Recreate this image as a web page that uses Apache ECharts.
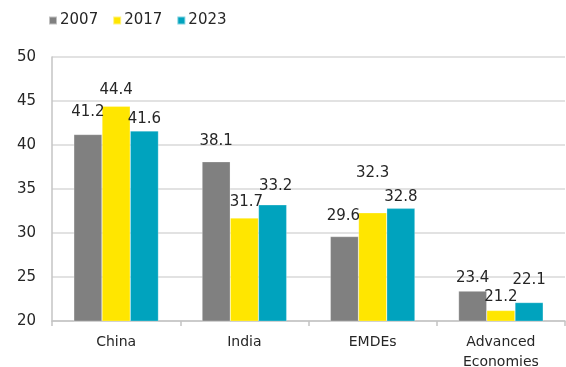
<!DOCTYPE html>
<html>
<head>
<meta charset="utf-8">
<script src="https://cdn.jsdelivr.net/npm/echarts@6/dist/echarts.min.js"></script>
<style>html,body{margin:0;padding:0;background:#fff;width:100%;height:100%;overflow:hidden}#c{width:566px;height:367px}</style>
</head>
<body>
<div id="c"></div>
<script>
const categories = ['China', 'India', 'EMDEs', 'Advanced\nEconomies'];
const seriesNames = ['2007', '2017', '2023'];
const values2007 = [41.2, 38.1, 29.6, 23.4];
const values2017 = [44.4, 31.7, 32.3, 21.2];
const values2023 = [41.6, 33.2, 32.8, 22.1];
const yTicks = { min: 20, max: 50, interval: 5 };

const colors = ['#808080', '#FFE600', '#00A3BE'];
// label nudges [dx, dy] per series per category (layout only)
const labelOffsets = [
  [[0, -10], [0, -8], [-1, -7.5], [0, 0]],
  [[0, -3.5], [2, -3.5], [0, -27.5], [0, -1]],
  [[0, 0.5], [3, -6], [0, 1], [0, -9.5]]
];

const font = 'DejaVu Sans, Verdana, sans-serif';
const allValues = [values2007, values2017, values2023];

const chart = echarts.init(document.getElementById('c'));
chart.setOption({
  animation: false,
  textStyle: { fontFamily: font },
  legend: {
    left: 48, top: 13, padding: 0,
    itemWidth: 8, itemHeight: 8, itemGap: 14,
    icon: 'rect',
    textStyle: { fontSize: 15, color: '#262626', fontFamily: font, padding: [0, 0, 0, -2] },
    data: seriesNames
  },
  grid: { left: 52, right: 1, top: 57, bottom: 46, containLabel: false, outerBoundsMode: 'none' },
  xAxis: {
    type: 'category',
    data: categories,
    axisLine: { lineStyle: { color: '#C4C4C4', width: 1.5 } },
    axisTick: { show: true, length: 5, lineStyle: { color: '#C4C4C4', width: 1.5 } },
    axisLabel: { color: '#262626', fontSize: 14, fontFamily: font, margin: 11, lineHeight: 20 }
  },
  yAxis: {
    type: 'value',
    min: yTicks.min, max: yTicks.max, interval: yTicks.interval,
    axisLine: { show: true, lineStyle: { color: '#C4C4C4', width: 1.5 } },
    axisTick: { show: false },
    splitLine: { lineStyle: { color: '#D9D9D9', width: 1.5 } },
    axisLabel: { color: '#262626', fontSize: 15, fontFamily: font, margin: 16 }
  },
  series: seriesNames.map((name, si) => ({
    name: name,
    type: 'bar',
    barGap: '0%',
    barCategoryGap: '34%',
    itemStyle: { color: colors[si], borderColor: 'rgba(255,255,255,0.5)', borderWidth: 0.5 },
    label: {
      show: true, position: 'top', distance: 5,
      color: '#262626', fontSize: 15, fontFamily: font
    },
    data: allValues[si].map((v, ci) => ({
      value: v,
      label: { offset: labelOffsets[si][ci] }
    }))
  }))
});
</script>
</body>
</html>
